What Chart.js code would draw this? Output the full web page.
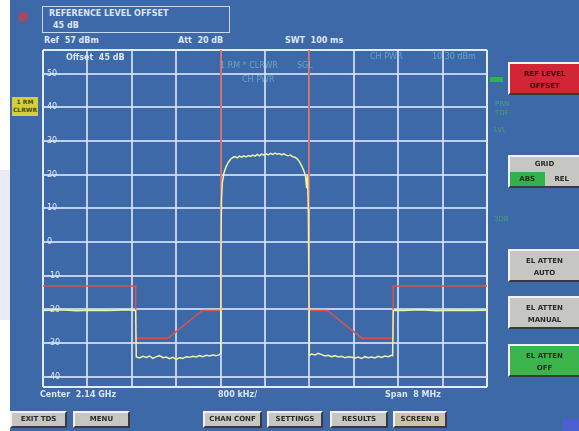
<!DOCTYPE html>
<html>
<head>
<meta charset="utf-8">
<script src="https://cdn.jsdelivr.net/npm/chart.js@4.4.0/dist/chart.umd.min.js"></script>
<style>
html, body { margin: 0; padding: 0; }
body { width: 579px; height: 431px; position: relative; overflow: hidden; background: #fff; font-family: "DejaVu Sans", sans-serif; }
#screen { position: absolute; left: 10px; top: 0; width: 569px; height: 431px; background: #3d69a8; }
#side { position: absolute; left: 0; top: 170px; width: 10px; height: 150px; background: #e9ecf5; }
#wrap { position: absolute; left: 0; top: 0; width: 579px; height: 431px; }
.t { position: absolute; color: #dce5f4; font-size: 8px; line-height: 1; white-space: pre; font-weight: bold; }
.faint { color: rgba(130, 205, 215, 0.6); font-weight: normal; }
.gfaint { color: rgba(70, 200, 90, 0.6); font-weight: normal; font-size: 7px; }
.btn { position: absolute; box-sizing: border-box; background: #c6c6c2; border: 2px solid; border-color: #f2f2f2 #3a3a3a #3a3a3a #f2f2f2;
       color: #2a2a2a; font-size: 7px; font-weight: bold; text-align: center; line-height: 1; }
.side-btn { left: 508px; width: 73px; height: 33px; padding-top: 4px; line-height: 12px; }
.bot-btn { top: 411px; height: 17px; padding-top: 3px; }
</style>
</head>
<body>
<div id="screen"></div>
<div id="side"></div>

<!-- header -->
<div style="position:absolute;left:18px;top:12px;width:10px;height:10px;border-radius:5px;background:#a8485e;"></div>
<div style="position:absolute;left:42px;top:6px;width:188px;height:27px;border:1px solid #c9d7ef;box-sizing:border-box;"></div>
<div class="t" style="left:49px;top:10px;">REFERENCE LEVEL OFFSET</div>
<div class="t" style="left:53px;top:22px;">45 dB</div>
<div class="t" style="left:44px;top:37px;">Ref  57 dBm</div>
<div class="t" style="left:178px;top:37px;">Att  20 dB</div>
<div class="t" style="left:285px;top:37px;">SWT  100 ms</div>

<!-- trace label on the left -->
<div style="position:absolute;left:12px;top:97px;width:26px;height:19px;background:#d6cf3c;color:#4a4a10;font-size:6px;font-weight:bold;line-height:8px;text-align:center;padding-top:1px;box-sizing:border-box;">1 RM<br>CLRWR</div>

<div id="wrap"><canvas id="specChart" width="579" height="431"></canvas></div>

<!-- texts inside plot -->
<div class="t" style="left:66px;top:54px;">Offset  45 dB</div>
<div class="t faint" style="left:220px;top:62px;">1 RM * CLRWR</div>
<div class="t faint" style="left:297px;top:62px;">SGL</div>
<div class="t faint" style="left:242px;top:76px;">CH PWR</div>
<div class="t faint" style="left:370px;top:53px;">CH PWR</div>
<div class="t faint" style="left:432px;top:53px;">10.30 dBm</div>

<!-- right of plot -->
<div style="position:absolute;left:490px;top:77px;width:13px;height:5px;background:#2fb34a;"></div>
<div class="t gfaint" style="left:495px;top:101px;">PRN</div>
<div class="t gfaint" style="left:495px;top:110px;">TDF</div>
<div class="t gfaint" style="left:494px;top:127px;">LVL</div>
<div class="t gfaint" style="left:494px;top:216px;">3DB</div>

<!-- bottom axis texts -->
<div class="t" style="left:40px;top:391px;">Center  2.14 GHz</div>
<div class="t" style="left:218px;top:391px;">800 kHz/</div>
<div class="t" style="left:385px;top:391px;">Span  8 MHz</div>

<!-- side softkeys -->
<div class="btn side-btn" style="top:62px;background:#d22535;color:#3a0d10;">REF LEVEL<br>OFFSET</div>
<div class="btn side-btn" style="top:155px;padding:0;"><div style="height:15px;line-height:15px;">GRID</div><div style="display:flex;height:14px;line-height:14px;"><div style="flex:1;background:#31b24a;">ABS</div><div style="flex:1;">REL</div></div></div>
<div class="btn side-btn" style="top:249px;">EL ATTEN<br>AUTO</div>
<div class="btn side-btn" style="top:296px;">EL ATTEN<br>MANUAL</div>
<div class="btn side-btn" style="top:344px;background:#3bb54b;">EL ATTEN<br>OFF</div>

<!-- bottom hotkeys -->
<div class="btn bot-btn" style="left:10px;width:57px;">EXIT TDS</div>
<div class="btn bot-btn" style="left:73px;width:57px;">MENU</div>
<div class="btn bot-btn" style="left:203px;width:59px;">CHAN CONF</div>
<div class="btn bot-btn" style="left:267px;width:56px;">SETTINGS</div>
<div class="btn bot-btn" style="left:330px;width:58px;">RESULTS</div>
<div class="btn bot-btn" style="left:393px;width:54px;background:#cbc4aa;">SCREEN B</div>
<div style="position:absolute;left:563px;top:419px;width:16px;height:12px;background:#4b5fd0;"></div>

<script>
// frequency offset from center (MHz) and level (dBm)
const traceFreq = [
  -4.0, -3.7, -3.4, -3.1, -2.8, -2.5, -2.33, -2.32,
  -2.26, -2.2, -2.14, -2.08, -2.02, -1.96, -1.9, -1.84, -1.78, -1.72, -1.66, -1.6, -1.54,
  -1.48, -1.42, -1.36, -1.3, -1.24, -1.18, -1.12, -1.06, -1.0, -0.94, -0.88, -0.82,
  -0.80, -0.795, -0.785, -0.77, -0.74, -0.70, -0.66, -0.62, -0.58,
  -0.54, -0.50, -0.46, -0.42, -0.38, -0.34, -0.30, -0.26, -0.22, -0.18, -0.14, -0.10, -0.06, -0.02,
  0.02, 0.06, 0.10, 0.14, 0.18, 0.22, 0.26, 0.30, 0.34, 0.38, 0.42, 0.46, 0.50, 0.54,
  0.58, 0.62, 0.66, 0.70, 0.73, 0.75, 0.765, 0.78, 0.79, 0.80,
  0.84, 0.90, 0.96, 1.02, 1.08, 1.14, 1.2, 1.26, 1.32, 1.38, 1.44, 1.5, 1.56,
  1.62, 1.68, 1.74, 1.8, 1.86, 1.92, 1.98, 2.04, 2.1, 2.16, 2.22, 2.28, 2.30,
  2.31, 2.5, 2.8, 3.1, 3.4, 3.7, 4.0
];
const traceLevel = [
  -20.3, -20.1, -20.4, -20.2, -20.3, -20.1, -20.3, -34.1,
  -34.4, -33.9, -34.2, -33.8, -34.5, -34.0, -33.7, -34.3, -34.1, -34.6, -34.2, -34.8, -34.3,
  -34.5, -34.0, -34.2, -33.9, -34.1, -33.7, -34.0, -33.6, -33.8, -33.5, -33.7, -33.4,
  -33.0, -5.0, 12.0, 17.5, 20.5, 22.4, 23.7, 24.6, 25.1,
  25.4, 25.0, 25.5, 25.2, 25.6, 25.3, 25.7, 25.4, 25.8, 25.5, 26.0, 25.6, 26.1, 25.8,
  26.2, 25.9, 26.3, 26.0, 26.4, 26.1, 26.3, 25.9, 26.2, 25.8, 25.6, 25.8, 25.3, 25.2,
  24.7, 23.9, 22.6, 21.2, 19.5, 16.0, 19.8, 10.0, -10.0, -33.6,
  -33.2, -33.5, -33.0, -33.4, -33.8, -33.6, -34.0, -33.7, -34.1, -33.9, -34.3, -34.0, -34.2,
  -34.4, -34.1, -34.5, -34.0, -34.3, -34.1, -34.4, -33.9, -34.2, -33.8, -34.0, -33.6, -33.7,
  -20.2, -20.3, -20.1, -20.4, -20.2, -20.3, -20.2
];

const maskFreq = [-4.0, -2.33, -2.33, -1.745, -1.13, -0.794, -0.794, 0.794, 0.794, 1.12, 1.745, 2.31, 2.31, 4.0];
const maskLevel = [-13, -13, -28.5, -28.5, -20.3, -20.3, 80, 80, -20.3, -20.3, -28.5, -28.5, -13, -13];

const freqTicks = [-4, -3.2, -2.4, -1.6, -0.8, 0, 0.8, 1.6, 2.4, 3.2, 4];
const levelTicks = [-43, -40, -30, -20, -10, 0, 10, 20, 30, 40, 50, 57];
const levelLabels = ['', '-40', '-30', '-20', '-10', '0', '10', '20', '30', '40', '50', ''];

const toPoints = (xs, ys) => xs.map((x, i) => ({ x: x, y: ys[i] }));
const isEdge = (v, lo, hi) => Math.abs(v - lo) < 1e-6 || Math.abs(v - hi) < 1e-6;

new Chart(document.getElementById('specChart'), {
  type: 'line',
  data: {
    datasets: [
      {
        label: 'Trace 1',
        data: toPoints(traceFreq, traceLevel),
        borderColor: '#eef2a8',
        borderWidth: 1.5,
        pointRadius: 0,
        tension: 0
      },
      {
        label: 'Limit',
        data: toPoints(maskFreq, maskLevel),
        borderColor: '#d8544c',
        borderWidth: 1.5,
        pointRadius: 0,
        tension: 0
      }
    ]
  },
  options: {
    responsive: false,
    animation: false,
    events: [],
    layout: { padding: { left: 35, top: 50, right: 92, bottom: 44 } },
    plugins: { legend: { display: false }, tooltip: { enabled: false } },
    scales: {
      x: {
        type: 'linear',
        min: -4,
        max: 4,
        afterBuildTicks: scale => { scale.ticks = freqTicks.map(v => ({ value: v })); },
        ticks: { display: false },
        border: { display: false },
        grid: {
          drawTicks: false,
          lineWidth: 2,
          color: c => isEdge(c.tick.value, -4, 4) ? '#e4ecfa' : 'rgba(212,226,248,0.85)'
        }
      },
      y: {
        type: 'linear',
        min: -43,
        max: 57,
        afterBuildTicks: scale => { scale.ticks = levelTicks.map(v => ({ value: v })); },
        ticks: {
          mirror: true,
          padding: 4,
          color: '#e2eaf7',
          font: { family: 'DejaVu Sans', size: 8 },
          callback: (v, i) => levelLabels[i]
        },
        border: { display: false },
        grid: {
          drawTicks: false,
          lineWidth: 2,
          color: c => isEdge(c.tick.value, -43, 57) ? '#e4ecfa' : 'rgba(212,226,248,0.85)'
        }
      }
    }
  }
});
</script>
</body>
</html>
